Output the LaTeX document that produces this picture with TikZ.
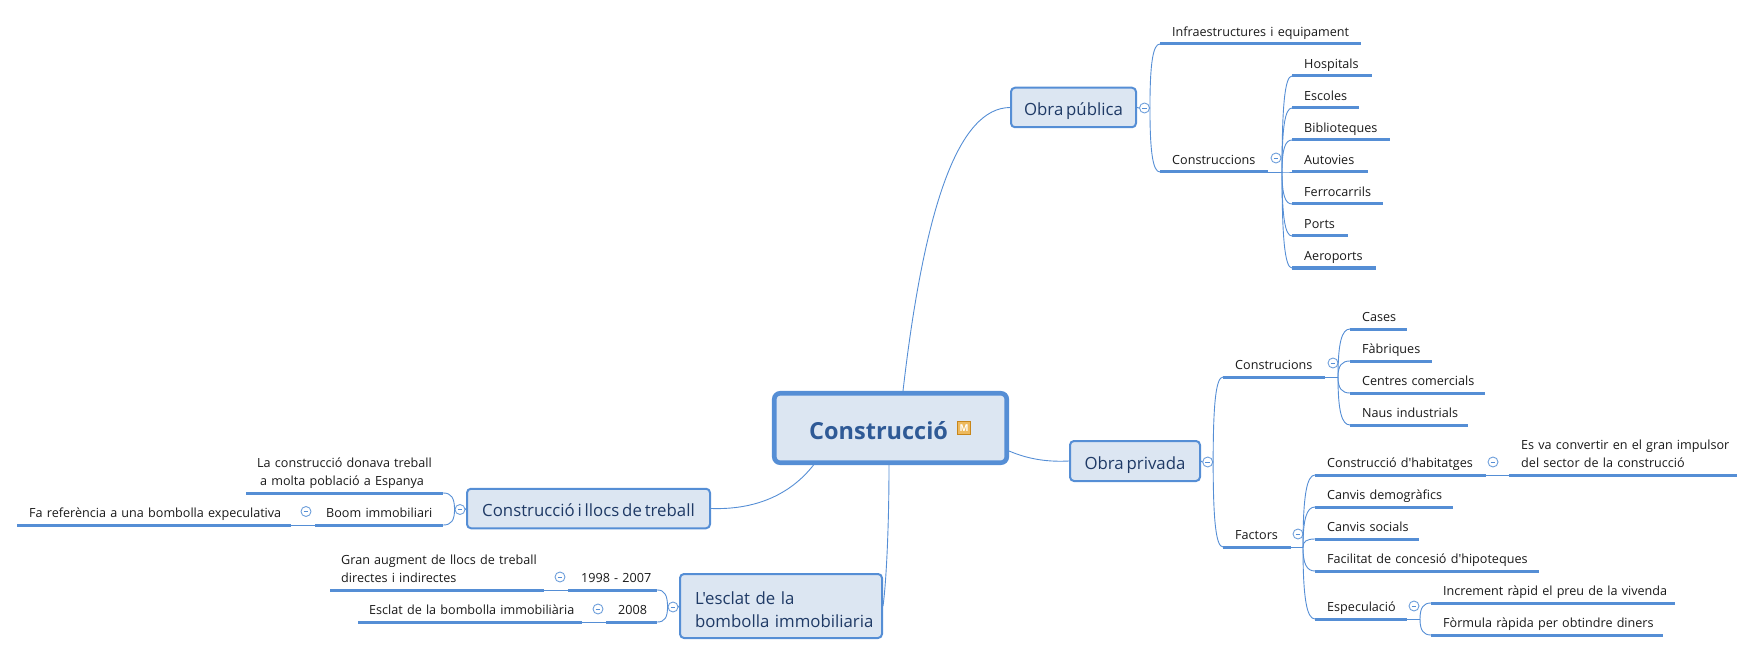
\documentclass[tikz,border=0pt]{standalone}
\usepackage{fontspec}
\setmainfont[WordSpace=0.65,Ligatures=TeXOff]{Open Sans}
\usetikzlibrary{calc}
\definecolor{mblue}{HTML}{558ED5}
\definecolor{mfill}{HTML}{DCE6F2}
\definecolor{mtext}{HTML}{1F3A66}
\definecolor{ctext}{HTML}{2F5A96}
\definecolor{iconfill}{HTML}{EDB95E}
\definecolor{icondraw}{HTML}{C8861A}
\newcommand{\ind}{\hspace*{12pt}}
\hyphenpenalty=10000
\tikzset{
  x=1pt,y=-1pt,
  conn/.style={draw=mblue,line width=0.9pt,line cap=round},
  topicline/.style={draw=mblue,line width=3pt},
  leaf/.style={anchor=south west,align=left,inner xsep=0pt,inner ysep=3.5pt,text depth=3.5pt,
    font=\fontsize{12.6}{18}\selectfont,text=black!90},
  twolines/.style={text depth=21.5pt},
  mainbox/.style={draw=mblue,fill=mfill,line width=2pt,rounded corners=4pt,text=mtext,
    font=\fontsize{16.8}{23}\selectfont,inner sep=0pt},
  onetext/.style={text height=20pt,text depth=4pt},
  rootbox/.style={draw=mblue,fill=mfill,line width=4.6pt,rounded corners=6pt,inner sep=0pt},
  collapse/.style={circle,draw=mblue!85,fill=white,line width=0.9pt,minimum size=10pt,inner sep=0pt,
    path picture={\draw[mblue,line width=0.8pt] ([xshift=-2.4pt]path picture bounding box.center) -- ([xshift=2.4pt]path picture bounding box.center);}},
  micon/.style={draw=icondraw,fill=iconfill,line width=0.8pt,minimum size=13pt,inner sep=0pt,
    text=white,font=\fontsize{9.5}{10}\bfseries\selectfont},
}
\newcommand{\leaf}[6][]{%
  \pgfmathsetlengthmacro{\leafw}{#4-#3}%
  \node[leaf,#1,text width=\leafw] (#2) at (#3,#5) {#6};
  \draw[topicline] (#2.south west) -- (#2.south east);
}
\newcommand{\fan}[2]{%
  \draw[conn] (#1) .. controls ($(#1|-#2)!0.3!(#1)$) and ($(#1|-#2)!0.3!(#2)$) .. (#2);
}
\begin{document}
\begin{tikzpicture}
\useasboundingbox (0,0) rectangle (1754,655);
% root
\node[rootbox,minimum width=232.5pt,minimum height=69.5pt] (root) at (890.5,428) {};
\node[anchor=base west,inner sep=0pt,text=ctext,font=\fontsize{23.5}{28}\bfseries\selectfont] (roottext) at (809,439) {Construcció};
\node[micon] (mark) at (964,428) {M};
% main topics
\node[mainbox,onetext,minimum width=125pt,minimum height=39.5pt] (pub) at (1073.5,107.5) {Obra pública};
\node[mainbox,onetext,minimum width=130pt,minimum height=40pt] (priv) at (1135,461) {Obra privada};
\node[mainbox,onetext,minimum width=243pt,minimum height=39.5pt] (llocs) at (588.5,508.5) {Construcció i llocs de treball};
\node[mainbox,minimum width=202pt,minimum height=64pt,align=left,text width=172pt,inner xsep=0pt,text height=18pt,text depth=22pt] (escl) at (781,606) {L'esclat de la\\\mbox{bombolla immobiliaria}};
% root connectors
\draw[conn] ([xshift=12.5pt]root.north) .. controls (925,200) and (960,108) .. (pub.west);
\draw[conn] ([yshift=-23pt]root.east) .. controls (1030,460) and (1050,462) .. (priv.west);
\draw[conn] ([xshift=-77pt]root.south) .. controls (790,495) and (755,510) .. (llocs.east);
\draw[conn] ([xshift=-1.5pt]root.south) .. controls (889,530) and (886,585) .. (escl.east);
% collapse marks
\node[collapse] (cpub) at (1144.5,108) {};
\node[collapse] (cpriv) at (1207.7,462) {};
\node[collapse] (cllocs) at (460,509.5) {};
\node[collapse] (cescl) at (673,607) {};
\node[collapse] (ccons) at (1276,158) {};
\node[collapse] (cconst) at (1333,363) {};
\node[collapse] (cfact) at (1298,534) {};
\node[collapse] (chab) at (1493,462) {};
\node[collapse] (cesp) at (1414,606) {};
\node[collapse] (cboom) at (306,511.5) {};
\node[collapse] (c98) at (560,577) {};
\node[collapse] (c08) at (598,609) {};
\draw[conn] (pub.east) -- (cpub.west);
\draw[conn] (priv.east) -- (cpriv.west);
\draw[conn] (llocs.west) -- (cllocs.east);
\draw[conn] (escl.west) -- (cescl.east);
% Obra publica
\leaf{infra}{1160}{1361}{44}{\ind Infraestructures i equipament}
\leaf{cons}{1160}{1268}{172}{\ind Construccions}
\fan{cpub.east}{infra.south west}
\fan{cpub.east}{cons.south west}
\leaf{hosp}{1292}{1372}{76}{\ind Hospitals}
\leaf{esco}{1292}{1359}{108}{\ind Escoles}
\leaf{bibl}{1292}{1390}{140}{\ind Biblioteques}
\leaf{auto}{1292}{1368}{172}{\ind Autovies}
\leaf{ferr}{1292}{1383}{204}{\ind Ferrocarrils}
\leaf{port}{1292}{1348}{236}{\ind Ports}
\leaf{aero}{1292}{1376}{268}{\ind Aeroports}
\coordinate (ocons) at (1282,172);
\draw[conn] (cons.south east) -- (ocons);
\fan{ocons}{hosp.south west}
\fan{ocons}{esco.south west}
\fan{ocons}{bibl.south west}
\fan{ocons}{auto.south west}
\fan{ocons}{ferr.south west}
\fan{ocons}{port.south west}
\fan{ocons}{aero.south west}
% Obra privada
\leaf{const}{1223}{1325}{377}{\ind Construcions}
\leaf{fact}{1223}{1291}{547}{\ind Factors}
\fan{cpriv.east}{const.south west}
\fan{cpriv.east}{fact.south west}
\leaf{case}{1350}{1407}{329}{\ind Cases}
\leaf{fabr}{1350}{1432}{361}{\ind Fàbriques}
\leaf{cent}{1350}{1485}{393}{\ind Centres comercials}
\leaf{naus}{1350}{1468}{425}{\ind Naus industrials}
\coordinate (oconst) at (1338,377);
\draw[conn] (const.south east) -- (oconst);
\fan{oconst}{case.south west}
\fan{oconst}{fabr.south west}
\fan{oconst}{cent.south west}
\fan{oconst}{naus.south west}
\leaf{habi}{1315}{1486}{475}{\ind Construcció d'habitatges}
\leaf{demo}{1315}{1453}{507}{\ind Canvis demogràfics}
\leaf{soci}{1315}{1419}{539}{\ind Canvis socials}
\leaf{hipo}{1315}{1539}{571}{\ind Facilitat de concesió d'hipoteques}
\leaf{espe}{1315}{1407}{619}{\ind Especulació}
\coordinate (ofact) at (1303,547);
\draw[conn] (fact.south east) -- (ofact);
\fan{ofact}{habi.south west}
\fan{ofact}{demo.south west}
\fan{ofact}{soci.south west}
\fan{ofact}{hipo.south west}
\fan{ofact}{espe.south west}
\leaf[twolines]{impu}{1509}{1737}{475}{\hspace*{12pt}Es va convertir en el gran impulsor\\\hspace*{12pt}del sector de la construcció}
\draw[conn] (habi.south east) -- (impu.south west);
\leaf{incr}{1431}{1675}{603}{\ind Increment ràpid el preu de la vivenda}
\leaf{form}{1431}{1663}{635}{\ind Fòrmula ràpida per obtindre diners}
\coordinate (oespe) at (1420,619);
\draw[conn] (espe.south east) -- (oespe);
\fan{oespe}{incr.south west}
\fan{oespe}{form.south west}
% Llocs
\leaf[twolines]{dona}{246}{443}{493}{\hspace*{11pt}La construcció donava treball\\\hspace*{14pt}a molta població a Espanya}
\leaf{boom}{315}{443}{525}{\hspace*{11pt}Boom immobiliari}
\leaf{refe}{17}{291}{525}{\hspace*{12pt}Fa referència a una bombolla expeculativa}
\fan{cllocs.west}{dona.south east}
\fan{cllocs.west}{boom.south east}
\draw[conn] (refe.south east) -- (boom.south west);
% Esclat
\leaf{y98}{568}{657}{590}{\hspace*{13pt}1998 - 2007}
\leaf{y08}{606}{657}{622}{\hspace*{12pt}2008}
\leaf[twolines]{gran}{330}{544}{590}{\hspace*{11pt}Gran augment de llocs de treball\\\hspace*{11pt}directes i indirectes}
\leaf{escb}{358}{582}{622}{\hspace*{11pt}Esclat de la bombolla immobiliària}
\fan{cescl.west}{y98.south east}
\fan{cescl.west}{y08.south east}
\draw[conn] (gran.south east) -- (y98.south west);
\draw[conn] (escb.south east) -- (y08.south west);
\end{tikzpicture}
\end{document}
